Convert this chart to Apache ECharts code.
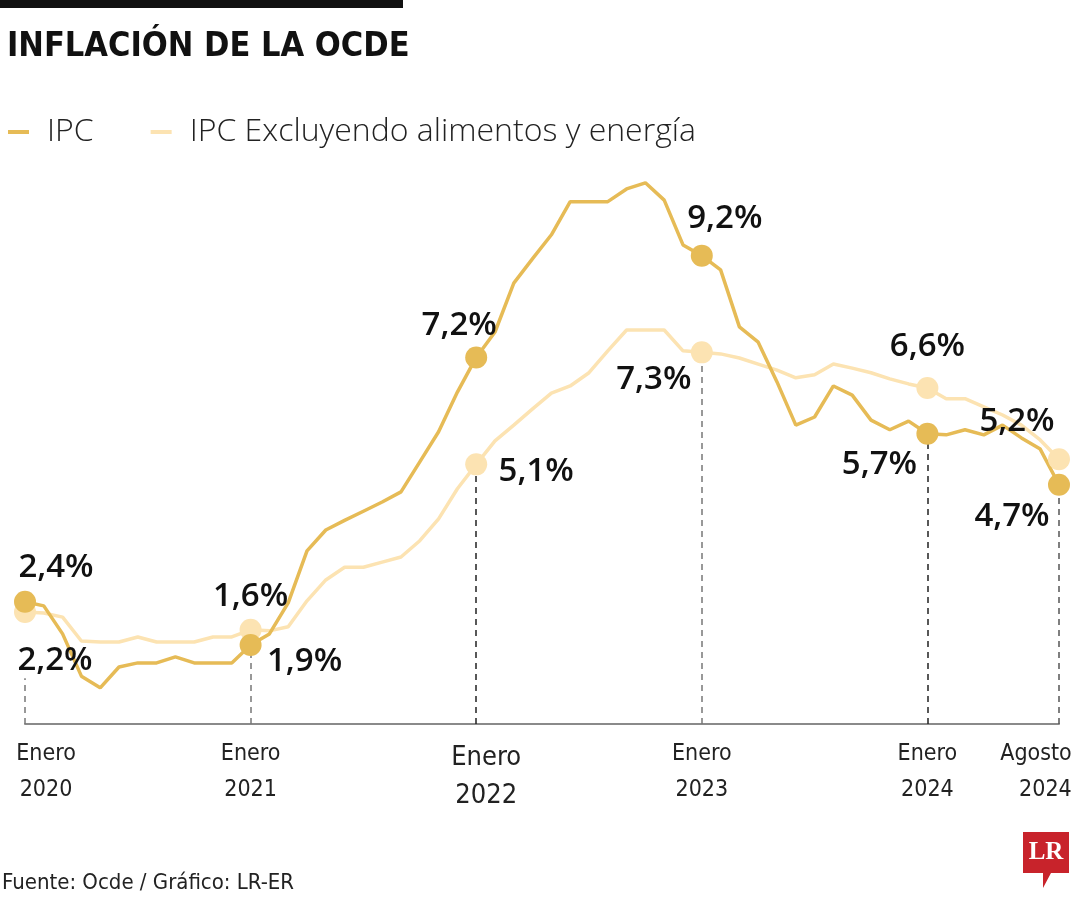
<!DOCTYPE html>
<html>
<head>
<meta charset="utf-8">
<style>
  html, body { margin: 0; padding: 0; background: #ffffff; }
  #chart { width: 1080px; height: 900px; }
</style>
<script src="https://cdn.jsdelivr.net/npm/echarts@6/dist/echarts.min.js"></script>
</head>
<body>
<div id="chart"></div>
<script>
// ---------- DATA ----------
const monthNames = ['Ene','Feb','Mar','Abr','May','Jun','Jul','Ago','Sep','Oct','Nov','Dic'];
const months = [];
for (let y = 2020; y <= 2024; y++) {
  for (let m = 0; m < 12; m++) {
    if (y === 2024 && m > 7) break;
    months.push(monthNames[m] + ' ' + y);
  }
}

// IPC (headline CPI), % annual
const ipc = [
  2.40, 2.32, 1.77, 0.94, 0.71, 1.12, 1.20, 1.20, 1.32, 1.20, 1.20, 1.20,
  1.55, 1.77, 2.38, 3.40, 3.81, 4.00, 4.18, 4.36, 4.56, 5.15, 5.74, 6.52,
  7.20, 7.70, 8.66, 9.14, 9.61, 10.26, 10.26, 10.26, 10.51, 10.63, 10.29, 9.41,
  9.20, 8.92, 7.80, 7.50, 6.72, 5.87, 6.03, 6.64, 6.46, 5.97, 5.78, 5.95,
  5.70, 5.68, 5.78, 5.68, 5.87, 5.62, 5.40, 4.70
];

// IPC excluding food and energy
const core = [
  2.20, 2.18, 2.10, 1.63, 1.61, 1.61, 1.71, 1.61, 1.61, 1.61, 1.71, 1.71,
  1.85, 1.83, 1.91, 2.42, 2.83, 3.08, 3.08, 3.18, 3.28, 3.60, 4.03, 4.62,
  5.10, 5.56, 5.87, 6.19, 6.50, 6.64, 6.90, 7.33, 7.74, 7.74, 7.74, 7.33,
  7.30, 7.27, 7.19, 7.07, 6.95, 6.80, 6.86, 7.07, 6.99, 6.90, 6.78, 6.68,
  6.60, 6.39, 6.39, 6.23, 6.07, 5.87, 5.58, 5.20
];

// highlighted months and tick labels
const keyIndex = [0, 12, 24, 36, 48, 55];
const tickText = ['Enero\n2020', 'Enero\n2021', 'Enero\n2022', 'Enero\n2023', 'Enero\n2024', 'Agosto\n2024'];
// label texts as printed next to each highlighted dot
const ipcLabels  = ['2,4%', '1,9%', '7,2%', '9,2%', '5,7%', '4,7%'];
const coreLabels = ['2,2%', '1,6%', '5,1%', '7,3%', '6,6%', '5,2%'];

const seriesNames = ['IPC', 'IPC Excluyendo alimentos y energía'];

// ---------- STYLE ----------
const C_IPC = '#E6BB56';
const C_CORE = '#FCE3B2';
const NARROW = "'Liberation Sans Narrow','DejaVu Sans Condensed','Roboto',sans-serif";
const LABELFONT = "'Open Sans','Noto Sans',sans-serif";
const ipcOffsets  = [[31, -34], [54, 17], [-17, -32], [23, -37], [-48, 31], [-47, 32]];
const coreOffsets = [[30, 49], [0, -33], [60, 7], [-48, 27], [0, -41], [-42, -38]];
const guideColors = ['#777', '#777', '#222', '#777', '#222', '#555'];
const guideTop2020 = 0.9; // guide under the "2,2%" label

function keyPoints(values, labels, offsets) {
  return keyIndex.map((idx, i) => ({
    value: [idx, values[idx]],
    label: {
      show: true,
      position: 'inside',
      offset: offsets[i],
      formatter: labels[i]
    }
  }));
}

const guides = keyIndex.map((idx, i) => {
  const top = i === 0 ? guideTop2020 : Math.min(ipc[idx], core[idx]);
  return [
    { coord: [idx, 0], lineStyle: { color: guideColors[i] } },
    { coord: [idx, top] }
  ];
});

const chart = echarts.init(document.getElementById('chart'), null, { renderer: 'canvas' });

chart.setOption({
  animation: false,
  backgroundColor: '#ffffff',
  title: {
    text: 'INFLACIÓN DE LA OCDE',
    left: 2,
    top: 25,
    textStyle: { fontFamily: NARROW, fontWeight: 'bold', fontSize: 34, color: '#111' }
  },
  legend: {
    data: seriesNames,
    left: 3,
    top: 111,
    icon: 'rect',
    itemWidth: 21,
    itemHeight: 4,
    itemGap: 57,
    textStyle: { fontFamily: LABELFONT, fontWeight: 300, fontSize: 32, color: '#222', padding: [0, 0, 0, 13] }
  },
  grid: { left: 25, right: 21, top: 164, bottom: 176, containLabel: false, outerBoundsMode: 'none' },
  xAxis: {
    type: 'category',
    data: months,
    boundaryGap: false,
    axisLine: { show: true, lineStyle: { color: '#8a8a8a', width: 2 } },
    axisTick: { show: false },
    splitLine: { show: false },
    axisLabel: {
      interval: (idx) => keyIndex.indexOf(idx) >= 0,
      margin: 12,
      formatter: (val, idx) => {
        const i = keyIndex.indexOf(idx);
        if (i < 0) return '';
        const parts = tickText[i].split('\n');
        if (i === 0) return '{f|' + parts[0] + '}\n{f|' + parts[1] + '}';
        if (i === 2) return '{b1|' + parts[0] + '}\n{b|' + parts[1] + '}';
        if (i === keyIndex.length - 1) return '{z|' + parts[0] + '}\n{z|' + parts[1] + '}';
        return '{n|' + parts[0] + '}\n{n|' + parts[1] + '}';
      },
      rich: {
        n: { fontFamily: NARROW, fontSize: 23, lineHeight: 36, color: '#222' },
        f: { fontFamily: NARROW, fontSize: 23, lineHeight: 36, color: '#222', padding: [0, 0, 0, 42] },
        z: { fontFamily: NARROW, fontSize: 23, lineHeight: 36, color: '#222', align: 'right', padding: [0, 46, 0, 0] },
        b1: { fontFamily: NARROW, fontSize: 27, lineHeight: 40, color: '#222', padding: [4, 0, 0, 20] },
        b: { fontFamily: NARROW, fontSize: 27, lineHeight: 40, color: '#222', padding: [0, 0, 0, 20] }
      }
    }
  },
  yAxis: {
    type: 'value',
    min: 0,
    max: 11,
    show: false,
    splitLine: { show: false }
  },
  series: [
    {
      name: seriesNames[1],
      type: 'line',
      data: core,
      showSymbol: false,
      symbol: 'none',
      z: 2,
      lineStyle: { color: C_CORE, width: 3.5 },
      itemStyle: { color: C_CORE }
    },
    {
      name: seriesNames[0],
      type: 'line',
      data: ipc,
      showSymbol: false,
      symbol: 'none',
      z: 3,
      lineStyle: { color: C_IPC, width: 3.5 },
      itemStyle: { color: C_IPC },
      markLine: {
        silent: true,
        symbol: ['none', 'none'],
        label: { show: false },
        lineStyle: { type: [6, 5], width: 1.5 },
        z: 1,
        data: guides
      }
    },
    {
      name: 'coreDots',
      type: 'scatter',
      data: keyPoints(core, coreLabels, coreOffsets),
      symbolSize: 22,
      z: 4,
      itemStyle: { color: C_CORE, opacity: 1 },
      label: { fontFamily: LABELFONT, fontWeight: 600, fontSize: 33, color: '#111' }
    },
    {
      name: 'ipcDots',
      type: 'scatter',
      data: keyPoints(ipc, ipcLabels, ipcOffsets),
      symbolSize: 22,
      z: 5,
      itemStyle: { color: C_IPC, opacity: 1 },
      label: { fontFamily: LABELFONT, fontWeight: 600, fontSize: 33, color: '#111' }
    }
  ],
  graphic: [
    { type: 'rect', left: 0, top: 0, shape: { width: 403, height: 8 }, style: { fill: '#111' } },
    {
      type: 'text', left: 2, top: 872,
      style: { text: 'Fuente: Ocde / Gráfico: LR-ER', font: "22px " + NARROW, fill: '#222' }
    },
    {
      type: 'group', left: 1023, top: 832,
      children: [
        { type: 'polygon', shape: { points: [[0, 0], [46, 0], [46, 41], [28, 41], [20, 56], [20, 41], [0, 41]] }, style: { fill: '#C8232B' } },
        { type: 'text', x: 23, y: 21, style: { text: 'LR', font: "bold 25px 'Liberation Serif','DejaVu Serif',serif", fill: '#fff', align: 'center', verticalAlign: 'middle' } }
      ]
    }
  ]
});
</script>
</body>
</html>
